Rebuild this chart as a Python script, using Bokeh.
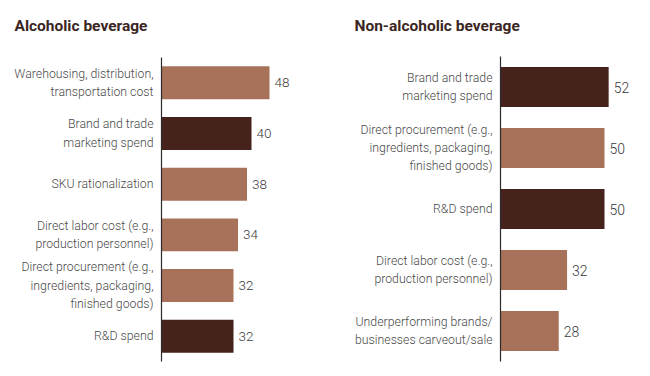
from bokeh.plotting import figure
from bokeh.models import Range1d, ColumnDataSource, Label
from bokeh.layouts import row
from bokeh.embed import file_html
from bokeh.resources import INLINE
from bokeh.core.properties import value

LIGHT = "#a8725a"
DARK = "#45231c"

alc_title = "Alcoholic beverage"
alc_labels = [
    "Warehousing, distribution,\ntransportation cost",
    "Brand and trade\nmarketing spend",
    "SKU rationalization",
    "Direct labor cost (e.g.,\nproduction personnel)",
    "Direct procurement (e.g.,\ningredients, packaging,\nfinished goods)",
    "R&D spend",
]
alc_values = [48, 40, 38, 34, 32, 32]
alc_dark = [False, True, False, False, False, True]

non_title = "Non-alcoholic beverage"
non_labels = [
    "Brand and trade\nmarketing spend",
    "Direct procurement (e.g.,\ningredients, packaging,\nfinished goods)",
    "R&D spend",
    "Direct labor cost (e.g.,\nproduction personnel)",
    "Underperforming brands/\nbusinesses carveout/sale",
]
non_values = [52, 50, 50, 32, 28]
non_dark = [True, False, True, False, False]

FONT = "Roboto Light"


def panel(title, labels, values, dark, width, xr, yr, bar_h, val_size, title_x, title_y):
    p = figure(width=width, height=376, output_backend="svg", toolbar_location=None,
               x_range=Range1d(*xr), y_range=Range1d(*yr),
               min_border=0, min_border_left=0, min_border_right=0,
               min_border_top=0, min_border_bottom=0)
    p.axis.visible = False
    p.grid.visible = False
    p.outline_line_color = None
    p.background_fill_color = "white"
    p.border_fill_color = "white"
    n = len(labels)
    ys = [i + 0.5 for i in range(n)]
    src = ColumnDataSource(dict(
        y=ys, v=values, lab=labels, vs=[str(v) for v in values],
        c=[DARK if d else LIGHT for d in dark], zero=[0] * n,
    ))
    p.hbar(y="y", left=0, right="v", height=bar_h, color="c", source=src, line_color=None)
    p.segment(x0=[0], y0=[0], x1=[0], y1=[n], line_color="#2b2b2b", line_width=1.2)
    p.text(x="zero", y="y", text="lab", source=src, x_offset=-8,
           text_align="right", text_baseline="middle", text_font=value(FONT),
           text_font_size="12.3px", text_color="#4a4a4a", text_line_height=1.3)
    p.text(x="v", y="y", text="vs", source=src, x_offset=5,
           text_align="left", text_baseline="middle", text_font=value(FONT),
           text_font_size=val_size, text_color="#3a3a3a")
    p.add_layout(Label(x=title_x, y=title_y, text=title, text_font="Roboto",
                       text_font_style="bold", text_font_size="15.5px",
                       text_color="#3b2623", text_align="left",
                       text_baseline="alphabetic"))
    return p


# left: axis at x 161, 2.25 px/unit; slot pitch 50.67 px, top at y 57
p1 = panel(alc_title, alc_labels, alc_values, alc_dark, 325,
           (-161 / 2.25, (325 - 161) / 2.25), ((376 - 57) / 50.67, -57 / 50.67),
           0.65, "13.5px", (14 - 161) / 2.25, (25 - 57) / 50.67)
# right: axis at x 500 (175 in panel), 2.08 px/unit; slot pitch 61 px, top at y 56
p2 = panel(non_title, non_labels, non_values, non_dark, 325,
           (-175 / 2.08, (325 - 175) / 2.08), ((376 - 56) / 61.0, -56 / 61.0),
           0.656, "14px", (354 - 500) / 2.08, (25 - 56) / 61.0)

layout = row(p1, p2, spacing=0)
open("out.html", "w").write(file_html(layout, INLINE))
